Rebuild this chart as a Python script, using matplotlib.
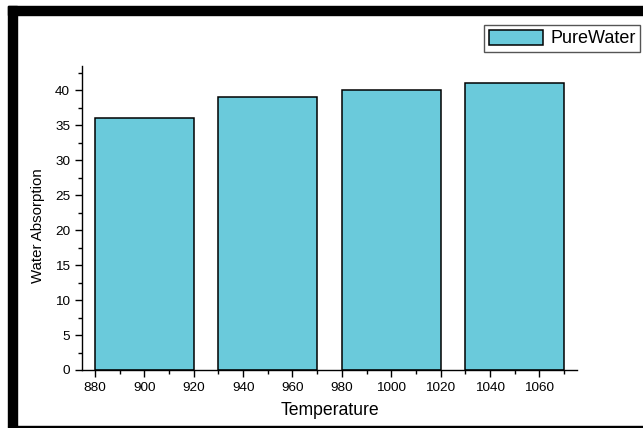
import matplotlib
matplotlib.use('Agg')
import matplotlib.pyplot as plt
from matplotlib.patches import Rectangle
from matplotlib.ticker import MultipleLocator

temps = [900, 950, 1000, 1050]
absorption = [36, 39, 40, 41]
series_name = 'PureWater'

plt.rcParams['font.family'] = ['Liberation Sans', 'DejaVu Sans']

fig = plt.figure(figsize=(6.43, 4.28), dpi=100)
ax = fig.add_axes([82/643, 58/428, 495/643, 304/428])

ax.bar(temps, absorption, width=40, color='#6ACADB', edgecolor='black',
       linewidth=1.1, label=series_name)

ax.set_xlim(874.7, 1075.3)
ax.set_ylim(0, 43.5)
ax.xaxis.set_major_locator(MultipleLocator(20))
ax.xaxis.set_minor_locator(MultipleLocator(10))
ax.yaxis.set_major_locator(MultipleLocator(5))
ax.yaxis.set_minor_locator(MultipleLocator(2.5))
ax.tick_params(which='major', length=5, width=1, labelsize=9.7, direction='out')
ax.tick_params(which='minor', length=3, width=1, direction='out')
ax.spines['top'].set_visible(False)
ax.spines['right'].set_visible(False)
ax.spines['left'].set_linewidth(1)
ax.spines['bottom'].set_linewidth(1)

ax.set_xlabel('Temperature', fontsize=12.7, labelpad=6)
ax.set_ylabel('Water Absorption', fontsize=10.8)
ax.yaxis.set_label_coords(-37/495, 0.475)

fig.legend(loc='upper right', bbox_to_anchor=(640/643, 1 - 25/428), borderaxespad=0,
           fontsize=13, fancybox=False, edgecolor='#555555', framealpha=1,
           handlelength=3.0, handleheight=0.9, borderpad=0.25, handletextpad=0.4)

# black frame around the picture (left, top, bottom)
fig.patches.append(Rectangle((8/643, 2/428), 9/643, 420/428, transform=fig.transFigure,
                             color='black', zorder=0))
fig.patches.append(Rectangle((8/643, 1 - 15/428), 635/643, 9/428, transform=fig.transFigure,
                             color='black', zorder=0))
fig.patches.append(Rectangle((8/643, 0), 635/643, 2.5/428, transform=fig.transFigure,
                             color='black', zorder=0))

fig.savefig('out.png', dpi=100)
plt.close(fig)
